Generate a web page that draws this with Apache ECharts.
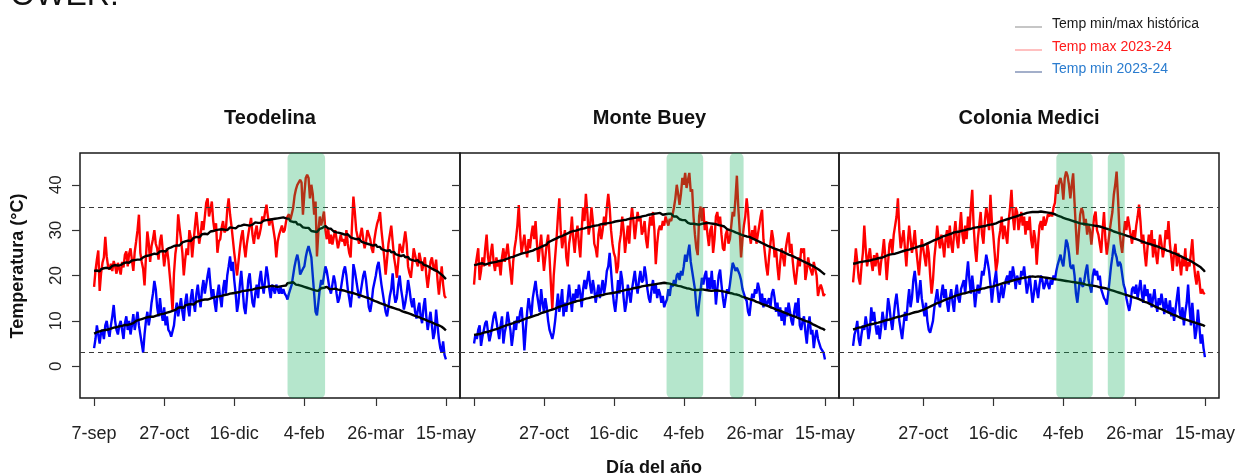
<!DOCTYPE html>
<html>
<head>
<meta charset="utf-8">
<title>Temperaturas diarias 2023-24</title>
<script src="https://cdn.jsdelivr.net/npm/echarts@6/dist/echarts.min.js"></script>
<style>
  html, body { margin: 0; padding: 0; background: #ffffff; }
  #chart { width: 1238px; height: 475px; }
</style>
</head>
<body>
<div id="chart"></div>
<script>
// Estaciones y ejes
const stations = ['Teodelina', 'Monte Buey', 'Colonia Medici'];
const tickDays = [0, 50, 100, 150, 201, 251];
const tickLabels = ['7-sep', '27-oct', '16-dic', '4-feb', '26-mar', '15-may'];
const yTicks = [0, 10, 20, 30, 40];
const thresholds = [35, 3];

// Teodelina: temperatura diaria (°C), día 0 = 7-sep
const teoMax = [
  17.5, 21, 23.5, 25.5, 16.6, 20.5, 22.8, 24, 28.5, 24.2,
  22, 21.3, 22.6, 21, 23.2, 22.1, 20.4, 22.8, 21.5, 20.2,
  23, 21.8, 24.6, 25.3, 22, 24.8, 26, 23.4, 21, 25.2,
  27.5, 30, 33.4, 25, 23, 21.5, 17.8, 24, 29.7, 27.2,
  23, 26.5, 28, 30, 27, 26, 23.5, 27.5, 29, 25.5,
  22, 24.5, 26, 23.5, 20, 16.5, 12.2, 20.5, 24.8, 27,
  33.5, 30.5, 28, 25, 20, 23.5, 26, 24.5, 30, 28.5,
  24, 27.5, 31, 34, 30.5, 27, 29, 32, 30, 33,
  36, 37, 33, 34.5, 36.3, 32, 29.7, 31.5, 25, 27.5,
  28, 30.5, 32, 29.5, 30, 34.5, 37, 33.5, 31, 28,
  25, 22.5, 20, 23, 26, 28.5, 30, 26.5, 24, 27,
  29, 31, 32.7, 29, 27, 29.5, 31, 28, 29, 30.5,
  33, 32, 34, 35.6, 33, 31, 32.5, 32, 30, 28,
  24, 27.5, 29, 30, 31, 29.5, 30, 32, 33, 33.5,
  32.3, 33.5, 34.9, 37.5, 39, 40, 40.5, 41.1, 40.5, 33.4,
  38, 41.5, 42.2, 41.5, 37, 40, 38, 33.4, 36.3, 24.2,
  29.7, 33, 31, 32.5, 34.1, 30, 28, 30.5, 27, 29,
  26.8, 28.5, 30, 28, 26, 27.5, 29, 27.5, 28, 26.5,
  30, 27, 25, 24, 31, 37.4, 34, 30, 28.5, 27,
  29, 30.5, 28, 26, 27.5, 30, 29, 28, 26, 25,
  28, 30, 31.5, 32.5, 34, 30, 27, 24, 20.2, 23.5,
  27, 29, 31, 27.5, 24, 22, 19.5, 23, 27, 26,
  25, 27.5, 29.7, 27, 22, 20.5, 19.5, 22.5, 26, 24.5,
  23, 22, 25, 23.5, 21, 22.5, 24, 20, 17.3, 20,
  23, 24, 22, 21, 23.5, 19, 15.8, 19, 22, 18,
  15.5, 15
];
const teoMin = [
  4, 6, 9, 7, 5, 7.5, 8, 6, 9, 10,
  8, 6.5, 9, 11, 13.5, 10, 8, 7, 9, 10,
  8, 6, 9.5, 11, 8, 10, 7, 9, 11.5, 8,
  10, 12, 9, 7, 5, 3, 7, 10, 12, 9,
  11, 14, 16, 18.8, 17, 13, 11, 15, 12, 10,
  13, 9, 11, 8, 7.5, 6.5, 6.3, 9, 12, 14,
  11, 13, 15, 12, 10, 14, 16, 13, 11, 15,
  17, 14, 12, 16, 18, 15, 13, 17, 19, 16,
  18, 20, 21.7, 18, 15, 17, 14, 12, 16, 18,
  15, 13, 17, 19, 16, 20, 22, 24.2, 21, 23,
  19, 16, 12, 14, 18, 21, 17, 13, 11.5, 15,
  19, 20.5, 17, 14, 13, 16, 18, 15, 19, 21,
  18, 16, 19, 22, 20, 17, 15, 18, 17, 16,
  18, 17, 16, 17.5, 16, 17, 16, 15.5, 14.7, 16,
  16, 18, 20, 22, 23.5, 24.6, 23, 20.2, 20.5, 21.5,
  22, 24, 25.5, 26.5, 26.8, 24, 20, 16, 12, 11.2,
  14, 17, 19, 18, 20, 22, 21, 19, 17, 16,
  18, 20, 18.5, 16, 14, 15, 17, 19, 21, 22,
  20, 17, 15, 13, 16, 22.5, 21, 19, 17, 15,
  16, 18, 20, 21, 19, 16, 13, 12, 14, 17,
  18.5, 20, 22, 23, 20.5, 18, 16, 14, 12, 11,
  13, 15.5, 17, 20.5, 16, 14, 15, 18, 20, 17,
  15, 12.5, 14, 16, 19, 17, 14.5, 13, 15, 12,
  10.5, 12.5, 14, 11, 9.5, 13, 15, 11, 8, 10,
  12, 9, 6, 7.5, 12.5, 9, 6, 4, 3, 5.5,
  2.5, 1.5
];
const teoHistMax = [
  21, 20.7, 21.1, 21.3, 20.9, 21.4, 21.2, 21.6, 21.3, 21.7,
  21.9, 21.5, 21.8, 22.1, 21.9, 22.3, 22, 22.2, 22.6, 22.3,
  22.4, 22.7, 22.5, 22.9, 23.1, 22.8, 23, 23.3, 23.1, 23.4,
  23.2, 23.5, 23.8, 23.5, 23.7, 24, 23.8, 24.3, 24.1, 24.4,
  24.2, 24.6, 24.4, 24.8, 25, 24.7, 25.1, 25.3, 25, 25.4,
  25.6, 25.3, 25.7, 26, 25.8, 26.2, 26.1, 26.5, 26.2, 26.6,
  26.8, 26.6, 27, 27.3, 27.1, 27.5, 27.3, 27.7, 27.9, 27.6,
  28, 28.3, 28.1, 28.5, 28.7, 28.4, 28.8, 29.1, 28.9, 29.2,
  29.4, 29.1, 29.5, 29.7, 29.4, 29.8, 29.6, 30, 29.7, 30.1,
  29.9, 30.2, 30.4, 30.1, 30.3, 30, 30.4, 30.6, 30.3, 30.5,
  30.7, 30.4, 30.6, 30.9, 30.7, 31, 30.8, 31.2, 30.9, 31.1,
  31.3, 31, 31.4, 31.2, 31.5, 31.7, 31.4, 31.6, 31.9, 31.6,
  31.8, 32.1, 31.9, 32.2, 32, 32.3, 32.1, 32.4, 32.2, 32.5,
  32.3, 32.6, 32.4, 32.7, 32.5, 32.8, 32.4, 32.6, 32.3, 32.5,
  32, 32.2, 31.8, 31.5, 31.8, 31.3, 31, 31.2, 30.8, 30.6,
  30.9, 30.5, 30.2, 30.5, 30.1, 29.8, 30, 29.7, 29.4, 29.6,
  29.9, 30.3, 30, 30.5, 30.7, 30.9, 30.6, 30.4, 30.1, 30.3,
  30, 29.7, 30, 29.5, 29.8, 29.4, 29.6, 29.2, 29.5, 29,
  28.8, 29.1, 28.7, 28.4, 28.7, 28.2, 28.5, 28, 27.8, 28.1,
  27.7, 27.4, 27.7, 27.2, 27.5, 27, 27.3, 26.8, 27, 26.6,
  26.4, 26.8, 26.3, 26, 26.3, 25.8, 26.1, 25.6, 25.9, 25.4,
  25.2, 25.6, 25.1, 24.9, 25.2, 24.7, 25, 24.5, 24.7, 24.3,
  24.1, 24.5, 24, 23.8, 24.1, 23.6, 23.9, 23.4, 23.6, 23.2,
  23.1, 23.4, 22.9, 22.7, 22.9, 22.4, 22.7, 22.2, 22.4, 21.9,
  21.8, 21.5, 21.7, 21.2, 21.4, 20.9, 20.7, 20.4, 20.2, 19.9,
  19.5, 19.2
];
const teoHistMin = [
  7.2, 7, 7.5, 7.3, 7.7, 7.4, 7.9, 7.6, 8, 7.8,
  8.1, 7.9, 8.3, 8.1, 8.5, 8.2, 8.6, 8.4, 8.8, 8.6,
  8.9, 8.7, 9.1, 9.4, 9.1, 9.5, 9.3, 9.7, 9.5, 9.8,
  10, 9.8, 10.2, 10, 10.4, 10.2, 10.6, 10.4, 10.8, 10.6,
  10.9, 11.2, 10.9, 11.3, 11.1, 11.5, 11.3, 11.7, 11.5, 11.8,
  11.6, 12, 11.8, 12.2, 12, 12.4, 12.2, 12.6, 12.4, 12.7,
  12.9, 12.6, 13, 13.2, 12.9, 13.4, 13.2, 13.6, 13.4, 13.7,
  13.9, 13.6, 14, 14.2, 14, 14.4, 14.2, 14.6, 14.4, 14.7,
  14.9, 14.7, 15.1, 14.9, 15.3, 15.1, 15.5, 15.3, 15.6, 15.4,
  15.7, 15.5, 15.9, 15.7, 16, 15.8, 16.2, 16, 16.3, 16.1,
  16.4, 16.2, 16.5, 16.3, 16.7, 16.5, 16.8, 16.6, 16.9, 16.7,
  17, 16.8, 17.1, 16.9, 17.3, 17.1, 17.4, 17.2, 17.5, 17.3,
  17.6, 17.4, 17.7, 17.5, 17.9, 17.6, 18, 17.7, 17.9, 17.6,
  17.8, 17.5, 17.9, 17.6, 18, 17.7, 18.1, 17.8, 18.3, 18,
  18.4, 18.1, 18.5, 18.2, 18, 18.3, 17.9, 18.1, 17.7, 17.9,
  17.5, 17.7, 17.3, 17.5, 17.1, 17.3, 16.9, 17.1, 16.7, 16.9,
  16.6, 16.9, 17.2, 16.9, 17.3, 17.1, 17.5, 17.2, 17, 17.3,
  17, 16.8, 17.1, 16.7, 16.9, 16.5, 16.8, 16.4, 16.7, 16.3,
  16.5, 16.1, 16.3, 15.9, 16.2, 15.8, 16, 15.6, 15.8, 15.4,
  15.6, 15.2, 15.4, 15, 15.2, 14.8, 15, 14.6, 14.7, 14.3,
  14.4, 14, 14.2, 13.8, 13.9, 13.5, 13.7, 13.3, 13.5, 13.1,
  13.2, 12.8, 13, 12.6, 12.8, 12.4, 12.6, 12.2, 12.4, 12,
  12.1, 11.7, 11.9, 11.5, 11.7, 11.3, 11.5, 11.1, 11.2, 10.8,
  11, 10.6, 10.8, 10.4, 10.5, 10.1, 10.3, 9.9, 10, 9.6,
  9.8, 9.4, 9.5, 9.1, 9.2, 8.8, 9, 8.6, 8.7, 8.3,
  8.2, 7.9
];

// Monte Buey
const mbMax = [
  18, 22, 24, 26, 19, 21, 24, 22, 26, 29,
  24, 22, 25, 27, 23, 21, 24, 22, 23, 20,
  24, 26, 23, 25, 27, 24, 21, 18, 23, 26,
  28, 31, 35.5, 29, 25, 27, 29, 26, 24, 28,
  26, 29, 31, 28, 32, 27, 23, 26, 29, 25,
  21, 24, 27, 29, 24, 18, 12.5, 20, 24, 28,
  33, 37, 30, 26, 28, 30, 24, 22, 27, 29,
  33, 28, 25, 29, 31, 27, 24, 30, 35, 32,
  38, 34, 29, 31, 35, 32, 27, 26, 24, 29,
  31, 28, 30, 33, 31, 35, 38, 35, 30, 27,
  25, 24, 20.5, 22, 27, 29, 33, 30, 25, 28,
  31, 27, 32, 35, 32, 28, 31, 34, 32, 33,
  29, 30, 32, 28, 26, 30, 33, 31, 34, 30,
  22.5, 27, 30, 31, 30, 32, 31, 33, 32, 31,
  32.5, 32, 33.4, 35, 37, 40, 38, 35.6, 38, 41.5,
  40, 42.6, 39.3, 41, 42.6, 38.5, 39, 33, 29, 26,
  24.5, 33, 35.2, 32, 35, 30, 32, 29, 26.5, 30,
  31, 25, 28, 33, 34, 31, 33, 29, 26, 25.5,
  29, 30, 27, 28, 31, 34, 33, 37, 42, 35,
  30, 24, 28, 31, 33, 37, 34, 29, 27, 30,
  28, 31, 27, 29, 31, 33, 34.5, 28, 25, 22,
  20, 24, 27, 30, 28, 24, 26, 22, 19, 23,
  26, 24, 22, 26, 28, 29.5, 25, 27, 23, 20,
  18, 21, 24, 22, 26, 25, 26, 19, 21, 24,
  22, 21, 20, 23, 23, 20, 15.5, 17, 18, 17,
  15.5, 16
];
const mbMin = [
  5, 7, 6, 8, 9, 4.5, 6.5, 8, 9.5, 10,
  7.5, 5.5, 7, 9, 11, 12, 10, 8, 6, 9,
  11, 5, 7.5, 9, 12, 10, 8, 4.5, 7, 10,
  8, 11, 9.5, 12, 13, 9, 3.5, 8, 12, 15,
  13, 11, 15, 17, 18.8, 16, 14, 12, 17, 14,
  12, 15, 13, 10, 8, 8, 6, 7.5, 10, 13,
  16, 12, 14, 17, 11, 14, 12, 15, 18, 15,
  12, 16, 14, 17, 15, 18, 16, 13, 17, 19,
  17, 19, 21, 18, 16, 19, 17, 14, 16, 18,
  15, 17, 19, 16, 18, 21, 22, 25, 21, 17,
  14, 12, 15, 19, 16, 21, 19, 15, 12, 14,
  18, 16, 14, 17, 19, 21, 18, 16, 19, 21,
  18.5, 19, 22, 20, 17, 15, 14, 17, 19, 16,
  18, 15, 17, 16, 14, 15.5, 13, 14, 14.7, 17,
  15.5, 18, 17.5, 19, 18, 20, 20.5, 19, 21, 20,
  22, 24.6, 23, 25, 26.8, 23, 21, 21, 17, 13,
  11, 14, 16.6, 19.5, 18, 20, 21, 17, 19.5, 17,
  21, 17, 19, 13.6, 17, 20, 21.3, 18, 15, 12.9,
  15, 17, 16, 18, 20.5, 22.8, 22, 21, 21.7, 21.5,
  20.2, 19, 17, 16, 15, 14.4, 12, 11.1, 14, 16,
  15, 17, 16, 18.4, 17, 14, 16, 13, 15, 13.5,
  14, 15, 13, 16, 17, 15, 12, 14, 11, 13,
  10, 12, 9, 13, 11, 14, 12, 10, 9, 12,
  14, 11, 15, 9, 8, 10, 11, 7.5, 5, 9,
  11, 7, 8, 4, 6.5, 8, 6, 5, 4, 3.5,
  3, 1.5
];
const mbHistMax = [
  22.3, 22, 22.4, 22.2, 22.6, 22.3, 22.7, 22.5, 22.4, 22.8,
  22.6, 23, 22.8, 23.1, 22.9, 23.2, 23, 23.4, 23.2, 23.5,
  23.3, 23.7, 23.5, 23.9, 23.7, 24.1, 24, 24.3, 24.1, 24.5,
  24.4, 24.8, 24.6, 25, 24.8, 25.1, 25, 25.3, 25.1, 25.5,
  25.3, 25.7, 25.5, 25.9, 25.8, 26.1, 26, 26.4, 26.3, 26.7,
  26.6, 27, 26.8, 27.3, 27.1, 27.6, 27.5, 27.9, 27.8, 28.2,
  28.1, 28.5, 28.3, 28.7, 28.6, 29, 28.9, 29.3, 29.2, 29.6,
  29.4, 29.8, 29.6, 29.9, 29.8, 30.1, 29.9, 30.3, 30.1, 30.4,
  30.3, 30.6, 30.4, 30.7, 30.5, 30.9, 30.7, 31, 30.8, 31.1,
  31, 31.3, 31.1, 31.4, 31.2, 31.5, 31.3, 31.6, 31.4, 31.7,
  31.6, 31.9, 31.7, 32, 31.8, 32.1, 31.9, 32.2, 32, 32.3,
  32.2, 32.5, 32.3, 32.6, 32.4, 32.7, 32.5, 32.8, 32.6, 32.9,
  32.8, 33.1, 32.9, 33.2, 33, 33.4, 33.2, 33.5, 33.3, 33.6,
  33.4, 33.7, 33.5, 33.8, 33.6, 33.4, 33.7, 33.5, 33.8, 33.6,
  33.3, 33.6, 33.2, 33, 32.8, 33, 32.6, 32.4, 32.6, 32.2,
  32, 32.2, 31.8, 31.6, 31.8, 31.4, 31.2, 31.4, 31.1, 31.3,
  31.5, 31.2, 31.6, 31.4, 31.7, 31.5, 31.8, 31.6, 31.3, 31.5,
  31.2, 31.4, 31.1, 31.3, 30.9, 31.1, 30.8, 31, 30.6, 30.8,
  30.5, 30.2, 30.4, 30, 30.2, 29.8, 29.9, 29.5, 29.7, 29.3,
  29.4, 29, 29.2, 28.8, 29, 28.6, 28.8, 28.5, 28.6, 28.2,
  28.3, 27.9, 28, 27.6, 27.7, 27.3, 27.4, 27, 27.1, 26.7,
  26.8, 26.4, 26.6, 26.2, 26.3, 25.9, 26.1, 25.7, 25.9, 25.5,
  25.6, 25.2, 25.3, 24.9, 25, 24.6, 24.8, 24.4, 24.5, 24.1,
  24.2, 23.8, 23.9, 23.5, 23.6, 23.2, 23.3, 22.9, 23, 22.6,
  22.7, 22.3, 22.4, 22, 22, 21.6, 21.6, 21.2, 21.1, 20.7,
  20.5, 20.2
];
const mbHistMin = [
  6.9, 7.2, 7, 7.4, 7.1, 7.5, 7.3, 7.7, 7.5, 7.8,
  7.6, 8, 7.8, 8.2, 8, 8.4, 8.2, 8.6, 8.4, 8.8,
  8.7, 9, 8.9, 9.3, 9.1, 9.5, 9.3, 9.7, 9.5, 9.9,
  9.8, 10.1, 9.9, 10.3, 10.1, 10.5, 10.4, 10.7, 10.6, 11,
  10.8, 11.1, 11, 11.4, 11.2, 11.6, 11.4, 11.8, 11.7, 12,
  11.9, 12.2, 12.1, 12.5, 12.3, 12.6, 12.5, 12.9, 12.7, 13.1,
  13, 13.3, 13.2, 13.5, 13.4, 13.7, 13.6, 13.9, 13.8, 14.1,
  14, 14.3, 14.2, 14.5, 14.4, 14.7, 14.5, 14.8, 14.7, 15,
  14.9, 15.2, 15, 15.3, 15.2, 15.5, 15.3, 15.6, 15.5, 15.8,
  15.6, 15.9, 15.7, 16, 15.9, 16.2, 16, 16.3, 16.1, 16.4,
  16.2, 16.5, 16.3, 16.6, 16.5, 16.8, 16.6, 16.9, 16.8, 17.1,
  16.9, 17.2, 17, 17.3, 17.2, 17.5, 17.3, 17.6, 17.4, 17.7,
  17.6, 17.9, 17.7, 18, 17.8, 18.1, 17.9, 18.2, 18, 18.3,
  18.1, 18.4, 18.2, 18.5, 18.3, 18.6, 18.4, 18.6, 18.3, 18.5,
  18.2, 18.4, 18, 18.2, 17.9, 18.1, 17.7, 17.9, 17.6, 17.8,
  17.4, 17.6, 17.2, 17.4, 17.1, 17.3, 16.9, 17.1, 16.8, 17,
  16.8, 17.1, 16.9, 17.2, 16.9, 17.1, 16.8, 17, 16.7, 16.9,
  16.6, 16.9, 16.7, 17, 16.7, 16.9, 16.6, 16.8, 16.5, 16.7,
  16.4, 16.6, 16.2, 16.4, 16.1, 16.3, 15.9, 16.1, 15.8, 15.9,
  15.6, 15.7, 15.3, 15.5, 15.1, 15.2, 14.9, 15, 14.7, 14.8,
  14.5, 14.6, 14.2, 14.3, 14, 14.1, 13.7, 13.8, 13.5, 13.6,
  13.3, 13.4, 13, 13.1, 12.8, 12.9, 12.5, 12.6, 12.3, 12.4,
  12.1, 12.2, 11.8, 11.9, 11.6, 11.7, 11.3, 11.4, 11.1, 11.2,
  10.9, 11, 10.6, 10.7, 10.4, 10.5, 10.1, 10.2, 9.9, 10,
  9.7, 9.7, 9.3, 9.3, 9, 9, 8.7, 8.7, 8.4, 8.4,
  8.2, 7.9
];

// Colonia Medici
const cmMax = [
  18.5, 22, 26, 23, 19.5, 18, 22, 25, 31, 26,
  22, 24, 26, 23, 21, 24.5, 22, 25, 23, 20,
  23, 25, 28, 24, 19, 23, 27, 28, 25, 29,
  31, 33, 37, 30, 26, 28, 30, 26, 22, 27,
  31, 28, 25, 27, 30, 26, 23, 20, 24, 28,
  26, 24, 22, 27, 25, 20, 16, 19, 24, 27,
  31, 28, 26, 29, 27, 24, 28, 30, 26, 31,
  27, 25, 29, 32, 28, 26, 30, 34, 29, 27,
  31, 28, 33, 30, 35, 38.9, 31, 26, 23, 28,
  31, 34, 29, 27, 32, 35, 33, 30, 37.8, 32,
  29, 25, 21, 23, 28, 30, 33, 28, 31, 29,
  27, 32, 35, 38.9, 33, 30, 35, 34, 30, 32,
  34, 31, 33, 29, 32, 30, 33, 28, 26, 30,
  28, 22.4, 27, 31, 32, 30, 33, 31, 32, 33.5,
  33, 34, 33, 35, 36, 40, 38, 40.7, 41.5, 40,
  36.7, 41.5, 42.9, 42, 40, 37, 40, 42.5, 36, 30,
  24.6, 29, 33.4, 34.9, 34, 31, 32.5, 29, 31, 30,
  26.8, 30, 33, 34.1, 30, 29, 27, 25, 30, 34,
  28, 24.6, 27, 29.7, 32, 34, 37.8, 40, 42.9, 37,
  30, 27, 25, 29, 32, 30, 33, 31, 29, 27,
  30, 28, 31, 33, 35.6, 32, 27, 29, 25, 22,
  26, 29, 27, 30, 24, 28, 25, 22.5, 26, 29,
  27, 24, 26, 30, 28, 32, 27, 24, 21, 25,
  27, 22, 25, 23, 20, 24, 22, 26, 21, 23,
  22, 25, 28, 23, 20, 18, 21, 19, 16, 17,
  16, 16.2
];
const cmMin = [
  4.5, 7, 8, 10, 6, 4.5, 7, 9, 8, 11,
  9, 6, 8, 13, 10, 12, 9, 7, 9, 6,
  8.5, 12, 10, 8, 11, 15, 13, 10, 8, 11,
  14, 16, 13, 10, 8, 6, 9, 12, 10, 14,
  17, 13, 15, 19, 21, 18, 14, 16, 19, 15,
  13, 11, 14, 10, 8, 7.4, 7, 10, 13, 15,
  17, 14, 13, 16, 18, 15, 17, 14, 12, 15,
  17, 14, 12, 16, 18, 15, 14, 17, 18, 19,
  16, 20, 23.1, 19, 16, 20, 17, 13, 16, 18,
  16, 18, 21, 20, 22, 24.6, 23, 21, 18, 14,
  17, 19, 21, 17, 14, 16, 18, 15, 17, 19,
  20, 18, 21, 19, 22, 20, 17, 20, 19, 18,
  21, 20, 22, 19, 16, 18, 20, 17, 14, 16,
  19, 17, 15, 18, 20, 19, 17, 18, 19.5, 18,
  17, 19, 18, 20, 19, 21, 22.4, 23.5, 24.6, 23,
  22, 25, 27.9, 27, 25, 22, 21.5, 22.4, 20, 16,
  14, 17, 19.5, 18, 17.5, 19, 21, 22.4, 19, 17.5,
  16.2, 20, 21.5, 20, 21, 19, 20, 17, 16, 15,
  14.5, 13.6, 16, 19, 22, 24.2, 26.8, 25, 24, 22,
  23, 22.4, 22, 18, 17, 15, 13.5, 12.2, 14, 17,
  17.5, 16, 18, 15, 17, 19, 16, 14, 18, 15.5,
  17, 14, 16, 13, 15, 17, 14, 12, 15, 13.5,
  16, 14, 11.5, 15, 13, 12, 14.5, 11, 13, 10,
  12.5, 15, 17.5, 12, 10.5, 13, 9, 12, 14, 18,
  13, 9, 14, 10, 6, 8, 12.5, 9, 5, 7,
  4, 2
];
const cmHistMax = [
  22.6, 22.3, 22.7, 22.5, 22.9, 22.6, 23, 22.8, 23.1, 22.9,
  23.2, 23, 23.3, 23.1, 23.5, 23.3, 23.6, 23.4, 23.8, 23.6,
  23.9, 23.7, 24.1, 23.9, 24.4, 24.2, 24.6, 24.4, 24.7, 24.5,
  24.8, 24.6, 25, 24.8, 25.2, 25, 25.4, 25.2, 25.6, 25.4,
  25.7, 25.5, 25.9, 25.7, 26.1, 25.9, 26.3, 26.1, 26.5, 26.3,
  26.6, 26.5, 26.9, 26.8, 27.2, 27.1, 27.5, 27.4, 27.8, 27.7,
  28, 27.9, 28.3, 28.2, 28.6, 28.5, 28.8, 28.7, 29, 28.9,
  29.2, 29.1, 29.5, 29.3, 29.6, 29.4, 29.7, 29.6, 29.9, 29.7,
  30, 29.9, 30.2, 30, 30.3, 30.2, 30.5, 30.3, 30.6, 30.4,
  30.7, 30.5, 30.8, 30.6, 30.9, 30.8, 31.1, 30.9, 31.2, 31,
  31.3, 31.2, 31.5, 31.4, 31.8, 31.6, 32, 31.9, 32.2, 32.1,
  32.4, 32.3, 32.6, 32.5, 32.8, 32.7, 33, 32.9, 33.2, 33.1,
  33.4, 33.2, 33.6, 33.4, 33.8, 33.6, 33.9, 33.7, 34, 33.8,
  34, 33.7, 34, 33.8, 34.1, 33.8, 34, 33.7, 33.9, 33.6,
  33.8, 33.5, 33.7, 33.3, 33.5, 33.1, 33.2, 32.8, 33, 32.6,
  32.7, 32.3, 32.5, 32.1, 32.3, 31.9, 32.1, 31.7, 31.9, 31.5,
  31.7, 31.3, 31.5, 31.1, 31.4, 31, 31.3, 30.9, 31.2, 30.8,
  31.1, 30.7, 31, 30.6, 30.9, 30.5, 30.8, 30.4, 30.6, 30.2,
  30.4, 30, 30.2, 29.8, 30, 29.6, 29.7, 29.3, 29.5, 29.1,
  29.3, 28.9, 29.1, 28.7, 28.9, 28.5, 28.7, 28.3, 28.5, 28.1,
  28.2, 27.8, 28, 27.6, 27.8, 27.4, 27.5, 27.1, 27.3, 26.9,
  27.1, 26.7, 26.9, 26.5, 26.7, 26.3, 26.5, 26.1, 26.3, 25.9,
  26, 25.6, 25.8, 25.4, 25.5, 25.1, 25.3, 24.9, 25, 24.6,
  24.8, 24.4, 24.5, 24.1, 24.2, 23.8, 23.9, 23.5, 23.6, 23.2,
  23.3, 22.9, 23, 22.6, 22.6, 22.2, 22.2, 21.8, 21.8, 21.4,
  21.2, 20.8
];
const cmHistMin = [
  8.1, 7.9, 8.3, 8.1, 8.5, 8.3, 8.6, 8.4, 8.8, 8.6,
  9, 8.8, 9.2, 9, 9.3, 9.1, 9.5, 9.3, 9.6, 9.4,
  9.8, 9.6, 10, 9.8, 10.2, 10, 10.3, 10.1, 10.5, 10.3,
  10.7, 10.5, 10.9, 10.7, 11, 10.8, 11.2, 11, 11.4, 11.2,
  11.5, 11.3, 11.7, 11.5, 11.9, 11.7, 12, 11.8, 12.2, 12,
  12.4, 12.3, 12.7, 12.6, 13, 12.9, 13.3, 13.2, 13.6, 13.5,
  13.9, 13.8, 14.1, 14, 14.4, 14.3, 14.7, 14.6, 14.9, 14.8,
  15.1, 15, 15.4, 15.3, 15.6, 15.5, 15.8, 15.7, 16, 15.9,
  16.1, 16, 16.3, 16.2, 16.5, 16.4, 16.6, 16.5, 16.8, 16.7,
  16.9, 16.8, 17.1, 17, 17.2, 17.1, 17.4, 17.3, 17.5, 17.4,
  17.6, 17.5, 17.8, 17.7, 18, 17.9, 18.2, 18.1, 18.4, 18.3,
  18.5, 18.4, 18.7, 18.6, 18.9, 18.8, 19.1, 19, 19.2, 19.1,
  19.4, 19.3, 19.5, 19.4, 19.6, 19.5, 19.7, 19.5, 19.8, 19.6,
  19.7, 19.5, 19.8, 19.6, 19.7, 19.4, 19.6, 19.3, 19.5, 19.2,
  19.4, 19.1, 19.3, 19, 19.2, 18.9, 19.1, 18.8, 19, 18.7,
  18.9, 18.6, 18.8, 18.5, 18.7, 18.4, 18.6, 18.3, 18.5, 18.2,
  18.4, 18.1, 18.3, 18, 18.2, 17.9, 18, 17.7, 17.9, 17.6,
  17.8, 17.5, 17.7, 17.4, 17.6, 17.3, 17.4, 17.1, 17.3, 17,
  17.2, 16.9, 17, 16.7, 16.8, 16.5, 16.6, 16.3, 16.4, 16.1,
  16.2, 15.9, 16, 15.7, 15.8, 15.5, 15.6, 15.3, 15.4, 15.1,
  15.2, 14.9, 15, 14.7, 14.8, 14.5, 14.5, 14.2, 14.2, 13.9,
  14, 13.7, 13.7, 13.4, 13.4, 13.1, 13.1, 12.8, 12.8, 12.5,
  12.6, 12.3, 12.3, 12, 12, 11.7, 11.7, 11.4, 11.4, 11.1,
  11.2, 10.9, 10.9, 10.6, 10.6, 10.3, 10.4, 10.1, 10.2, 9.9,
  10, 9.7, 9.8, 9.5, 9.6, 9.3, 9.4, 9.1, 9.2, 8.9,
  9, 8.8
];

// Periodos destacados (día inicial, día final)
const teoBands = [[138, 164.8]];
const mbBands = [[137.7, 163.9], [182.9, 192.8]];
const cmBands = [[145, 171], [181.7, 193.8]];

const panels = [
  { max: teoMax, min: teoMin, hMax: teoHistMax, hMin: teoHistMin, bands: teoBands },
  { max: mbMax, min: mbMin, hMax: mbHistMax, hMin: mbHistMin, bands: mbBands },
  { max: cmMax, min: cmMin, hMax: cmHistMax, hMin: cmHistMin, bands: cmBands }
];

const FONT = '"Liberation Sans", Arial, Helvetica, sans-serif';
const layout = [
  { left: 80, width: 380 },
  { left: 460, width: 379 },
  { left: 839, width: 380 }
];
const TOP = 153, HEIGHT = 245;
const XMIN = -10.04, XMAX = 261.04;   // R-style 4% padding around days 0..251
const YMIN = -7, YMAX = 47;            // R-style 4% padding around -5..45

const toPairs = arr => arr.map((v, i) => [i, v]);

const grid = layout.map(g => ({
  left: g.left, width: g.width, top: TOP, height: HEIGHT,
  show: true, borderColor: '#1a1a1a', borderWidth: 1.5, backgroundColor: 'transparent'
}));

const xAxis = layout.map((g, i) => ({
  type: 'value', gridIndex: i, min: XMIN, max: XMAX, position: 'bottom',
  axisLine: { show: false, onZero: false },
  splitLine: { show: false },
  axisTick: {
    show: true, inside: false, length: 8, customValues: tickDays,
    lineStyle: { color: '#333', width: 1.2 }
  },
  axisLabel: {
    show: true,
    customValues: i === 0 ? tickDays : tickDays.slice(1),
    formatter: v => tickLabels[tickDays.indexOf(v)],
    fontSize: 18, color: '#222', fontFamily: FONT, margin: 27,
    showMinLabel: true, showMaxLabel: true
  }
}));

const yAxis = layout.map((g, i) => ({
  type: 'value', gridIndex: i, min: YMIN, max: YMAX, position: 'left',
  axisLine: { show: false, onZero: false },
  splitLine: { show: false },
  axisTick: {
    show: true, inside: false, length: 8, customValues: yTicks,
    lineStyle: { color: '#333', width: 1.2 }
  },
  axisLabel: {
    show: i === 0, customValues: yTicks, rotate: 90,
    fontSize: 17, color: '#222', fontFamily: FONT, margin: 15
  }
}));

const series = [];
panels.forEach((p, i) => {
  const common = {
    type: 'line', xAxisIndex: i, yAxisIndex: i, showSymbol: false,
    silent: true, animation: false, z: 2
  };
  series.push(Object.assign({}, common, {
    name: 'Temp max 2023-24', data: toPairs(p.max),
    lineStyle: { color: '#ff0000', width: 2.4 }, itemStyle: { color: '#ff0000' }
  }));
  series.push(Object.assign({}, common, {
    name: 'Temp min 2023-24', data: toPairs(p.min),
    lineStyle: { color: '#0000ff', width: 2.4 }, itemStyle: { color: '#0000ff' }
  }));
  series.push(Object.assign({}, common, {
    name: 'Temp max histórica', data: toPairs(p.hMax),
    lineStyle: { color: '#000000', width: 2.4 }, itemStyle: { color: '#000000' },
    markLine: {
      silent: true, symbol: ['none', 'none'], animation: false,
      label: { show: false },
      lineStyle: { color: '#3a3a3a', width: 1.2, type: [5, 4] },
      data: thresholds.map(t => ({ yAxis: t }))
    }
  }));
  series.push(Object.assign({}, common, {
    name: 'Temp min histórica', data: toPairs(p.hMin),
    lineStyle: { color: '#000000', width: 2.4 }, itemStyle: { color: '#000000' }
  }));
  series.push({
    type: 'custom', xAxisIndex: i, yAxisIndex: i, silent: true, animation: false, z: 10,
    data: p.bands,
    encode: { x: [0, 1] },
    renderItem: (params, api) => {
      const x0 = api.coord([api.value(0), 0])[0];
      const x1 = api.coord([api.value(1), 0])[0];
      const cs = params.coordSys;
      return {
        type: 'rect',
        shape: { x: x0, y: cs.y, width: x1 - x0, height: cs.height, r: 5 },
        style: { fill: 'rgba(0,168,80,0.29)' }
      };
    }
  });
});

const legendRows = [
  { text: 'Temp min/max histórica', line: '#b3b3b3', color: '#1a1a1a', y: 24 },
  { text: 'Temp max 2023-24', line: '#ffabab', color: '#ff1a1a', y: 47 },
  { text: 'Temp min 2023-24', line: '#8595b8', color: '#2a7ccf', y: 69 }
];

const graphic = [
  {
    type: 'text', left: -11, top: -20,
    style: { text: 'POWER.', font: '32px ' + FONT, fill: '#111' }
  },
  {
    type: 'text', x: 18, y: 266, rotation: Math.PI / 2,
    style: { text: 'Temperatura (°C)', font: 'bold 18px ' + FONT, fill: '#111', align: 'center', verticalAlign: 'middle' }
  },
  {
    type: 'text', x: 654, y: 468,
    style: { text: 'Día del año', font: 'bold 18px ' + FONT, fill: '#111', align: 'center', verticalAlign: 'middle' }
  }
];
stations.forEach((name, i) => {
  graphic.push({
    type: 'text', x: layout[i].left + layout[i].width / 2, y: 118,
    style: { text: name, font: 'bold 20px ' + FONT, fill: '#111', align: 'center', verticalAlign: 'middle' }
  });
});
legendRows.forEach(r => {
  graphic.push({
    type: 'line', shape: { x1: 1015, y1: r.y + 3, x2: 1042, y2: r.y + 3 },
    style: { stroke: r.line, lineWidth: 1.5 }
  });
  graphic.push({
    type: 'text', x: 1052, y: r.y,
    style: { text: r.text, font: '14px ' + FONT, fill: r.color, align: 'left', verticalAlign: 'middle' }
  });
});

const chart = echarts.init(document.getElementById('chart'), null, { renderer: 'canvas' });
chart.setOption({
  backgroundColor: '#ffffff',
  animation: false,
  textStyle: { fontFamily: FONT },
  grid, xAxis, yAxis, series, graphic
});
</script>
</body>
</html>
